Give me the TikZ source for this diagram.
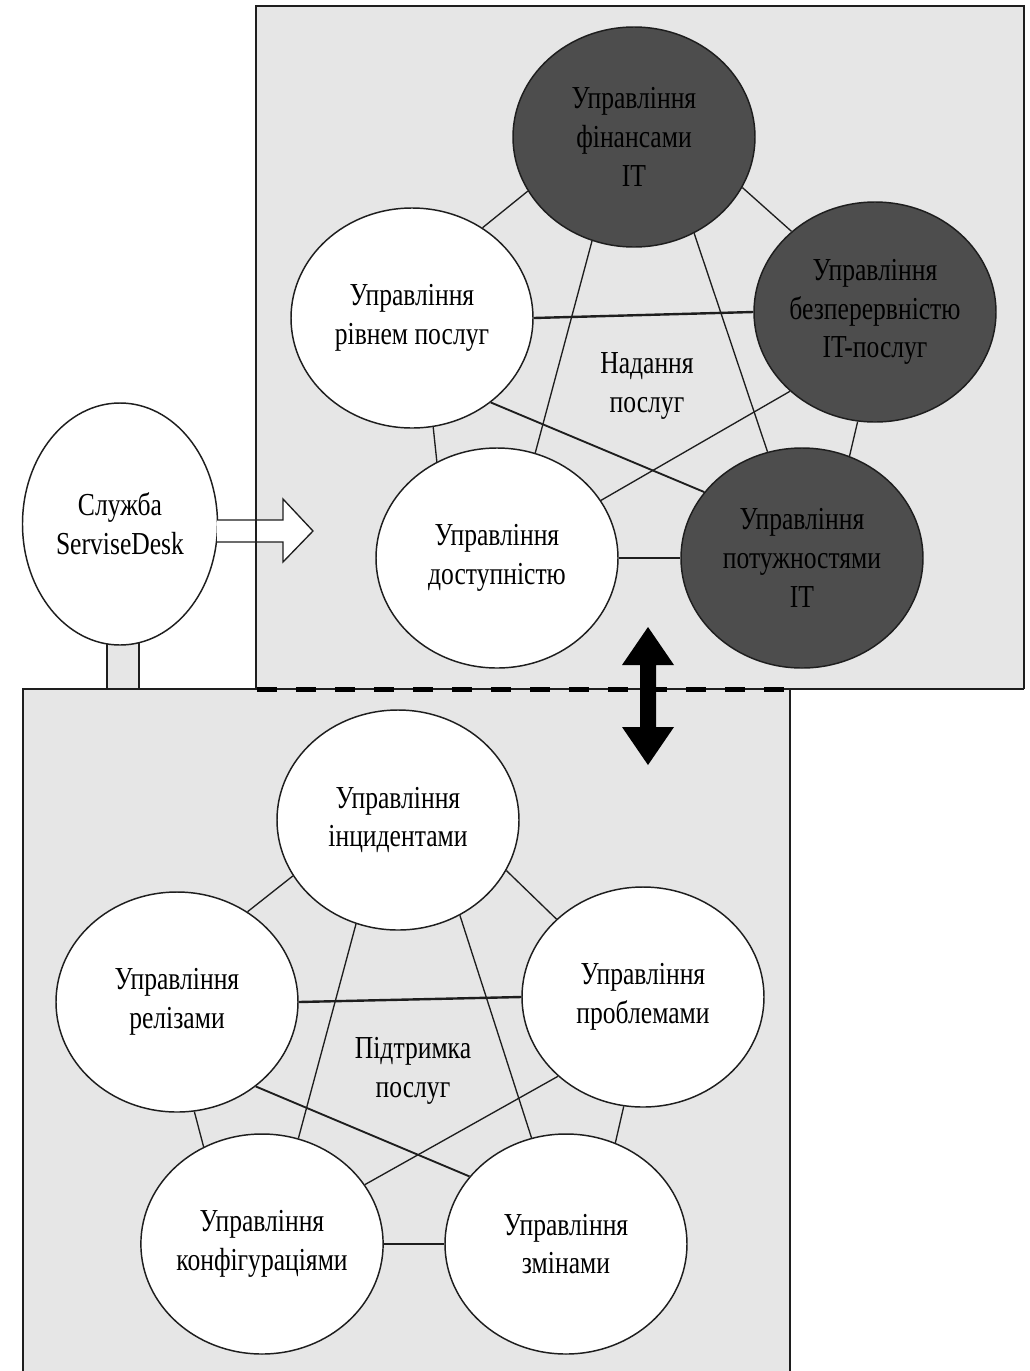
\documentclass[tikz,border=0pt]{standalone}
\usepackage{fontspec}
\setmainfont{Liberation Serif}[FakeStretch=0.8]
\usetikzlibrary{shapes.geometric}

\definecolor{panel}{RGB}{230,230,230}
\definecolor{darkdisc}{RGB}{77,77,77}
\definecolor{edge}{RGB}{30,30,30}

\tikzset{
  proc/.style={ellipse, draw=edge, line width=1.1pt, fill=white,
    minimum width=181.5pt, minimum height=165pt, inner sep=0pt,
    align=center, font=\fontsize{24}{29}\selectfont},
  darkproc/.style={proc, fill=darkdisc},
  caption/.style={align=center, font=\fontsize{24}{29}\selectfont},
  link/.style={draw=edge, line width=1.0pt},
  midlink/.style={draw=edge, line width=1.4pt},
  boldlink/.style={draw=edge, line width=1.8pt},
  frame/.style={draw=edge, line width=1.0pt},
}

\begin{document}
\begin{tikzpicture}[x=0.75pt,y=-0.75pt]
  \useasboundingbox (0,0) rectangle (1030,1371);
  \clip (0,0) rectangle (1030,1371);
  \fill[white] (0,0) rectangle (1030,1371);

  % panel backgrounds
  \fill[panel] (256,6) rectangle (1024,689);
  \fill[panel] (23,689) rectangle (790,1380);

  % service desk with its stem and hollow arrow
  \draw[frame, fill=panel] (107,640) rectangle (139,689);
  \node[proc, minimum width=146.25pt, minimum height=181.5pt] (desk) at (120,524) {Служба\\ServiseDesk};
  \draw[frame, fill=white] (217,520) -- (283,520) -- (283,499) -- (313,531)
        -- (283,562) -- (283,542) -- (217,542);

  % panel borders
  \draw[frame] (256,689) -- (256,6) -- (1024,6) -- (1024,689);
  \draw[frame] (23,1380) -- (23,689) -- (1024,689);
  \draw[frame] (790,689) -- (790,1380);
  \draw[black, line width=3.75pt, dash pattern=on 15pt off 14.25pt] (257,689) -- (790,689);

  % two-way arrow between the panels
  \fill[black] (648,627) -- (674,665) -- (656,665) -- (656,727) -- (674,727)
        -- (648,765) -- (622,727) -- (640,727) -- (640,665) -- (622,665) -- cycle;

  % service delivery
  \node[darkproc] (fin)  at (634,137) {Управління\\фінансами\\IT};
  \node[proc]     (rivn) at (412,318) {Управління\\рівнем послуг};
  \node[darkproc] (bezp) at (875,312) {Управління\\безперервністю\\IT-послуг};
  \node[proc]     (dost) at (497,558) {Управління\\доступністю};
  \node[darkproc] (potu) at (802,558) {Управління\\потужностями\\IT};
  \node[caption]  (nadannya) at (647,386) {Надання\\послуг};

  \draw[link] (fin.207) -- (rivn.52);
  \draw[link] (fin.335) -- (bezp.136);
  \draw[link] (fin.248) -- (dost.70);
  \draw[link] (fin.302) -- (potu.108);
  \draw[boldlink] (rivn.0) -- (bezp.180);
  \draw[link] (rivn.281) -- (dost.122);
  \draw[midlink] (rivn.313) -- (potu.146);
  \draw[link] (bezp.223) -- (dost.29);
  \draw[link] (bezp.261) -- (potu.65);
  \draw[boldlink] (dost.0) -- (potu.180);

  % service support
  \node[proc] (incid) at (398,820)  {Управління\\інцидентами};
  \node[proc] (reliz) at (177,1002) {Управління\\релізами};
  \node[proc] (probl) at (643,997)  {Управління\\проблемами};
  \node[proc] (konf)  at (262,1244) {Управління\\конфігураціями};
  \node[proc] (zmin)  at (566,1244) {Управління\\змінами};
  \node[caption] (pidtr) at (413,1071) {Підтримка\\послуг};

  \draw[link] (incid.208) -- (reliz.52);
  \draw[link] (incid.335) -- (probl.138);
  \draw[link] (incid.248) -- (konf.71);
  \draw[link] (incid.303) -- (zmin.108);
  \draw[boldlink] (reliz.0) -- (probl.180);
  \draw[link] (reliz.279) -- (konf.121);
  \draw[midlink] (reliz.313) -- (zmin.145);
  \draw[link] (probl.223) -- (konf.30);
  \draw[link] (probl.260) -- (zmin.64);
  \draw[boldlink] (konf.0) -- (zmin.180);
\end{tikzpicture}
\end{document}
